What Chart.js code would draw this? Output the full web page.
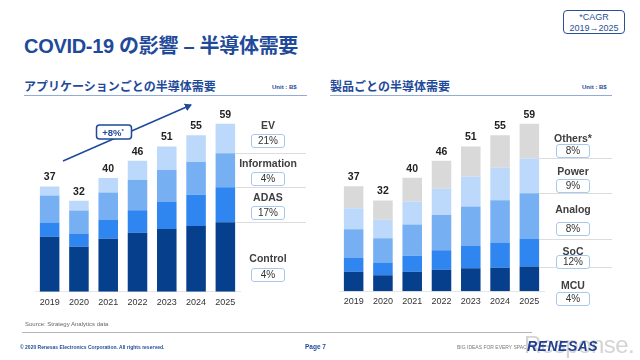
<!DOCTYPE html>
<html lang="ja">
<head>
  <meta charset="UTF-8">
  <title>COVID-19 の影響 – 半導体需要</title>
  <script src="https://cdn.jsdelivr.net/npm/chart.js"></script>
  <style>
    body {
      margin: 0;
      width: 640px;
      height: 360px;
      position: relative;
      overflow: hidden;
      background: #fff;
      font-family: 'Liberation Sans', Arial, 'Noto Sans CJK JP', sans-serif;
    }
    .abs { position: absolute; white-space: nowrap; }
    .title {
      left: 24px; top: 30px;
      font-size: 20px; font-weight: bold; color: #1f4a9a;
      letter-spacing: -0.3px;
    }
    .cagr {
      left: 563px; top: 10px; width: 62px; height: 24px;
      border: 1.5px solid #2a4f95; border-radius: 4px;
      color: #2a4f95; font-size: 9px; line-height: 11px; text-align: center;
      padding-top: 1px; box-sizing: border-box;
    }
    .head {
      font-size: 12px; font-weight: bold; color: #1f4a9a;
      border-bottom: 1.5px solid #93acd6; padding-bottom: 1px;
    }
    .unit { font-size: 6px; font-weight: bold; color: #1f4a9a; }
    .chart { position: absolute; top: 100px; width: 320px; height: 220px; }
    .lbl {
      position: absolute; font-size: 10.5px; font-weight: bold; color: #404040;
      transform: translateX(-50%); white-space: nowrap; line-height: 12px;
    }
    .box {
      position: absolute; width: 34px; height: 14px; box-sizing: border-box;
      border: 1px solid #a9c8ee; border-radius: 3px; background: #fff;
      font-size: 10px; color: #333; text-align: center; line-height: 12px;
    }
    .foot { font-size: 6px; color: #666; }
  </style>
</head>
<body>

<div class="abs title">COVID-19 の影響 – 半導体需要</div>
<div class="abs cagr">*CAGR<br>2019→2025</div>

<div class="abs head" style="left:24px; top:77px; width:283px;">アプリケーションごとの半導体需要</div>
<div class="abs unit" style="left:272px; top:84px;">Unit : B$</div>
<div class="abs head" style="left:330px; top:77px; width:282px;">製品ごとの半導体需要</div>
<div class="abs unit" style="left:582px; top:84px;">Unit : B$</div>

<div class="chart" style="left:0;"><canvas id="appChart" width="320" height="220"></canvas></div>
<div class="chart" style="left:320px;"><canvas id="prodChart" width="320" height="220"></canvas></div>

<svg class="abs" style="left:0; top:0;" width="320" height="360">
  <defs>
    <marker id="ah" markerWidth="8" markerHeight="8" refX="6" refY="4" orient="auto" markerUnits="userSpaceOnUse">
      <path d="M0,0 L7,4 L0,8 z" fill="#1f4a9a"/>
    </marker>
  </defs>
  <line x1="63" y1="161" x2="191" y2="105" stroke="#1f4a9a" stroke-width="1.5" marker-end="url(#ah)"/>
  <rect x="96.5" y="125" width="35" height="14" rx="3" fill="#fff" stroke="#1f4a9a" stroke-width="1.5"/>
  <text x="113" y="135.5" text-anchor="middle" font-size="9.5" font-weight="bold" fill="#1f4a9a" font-family="Liberation Sans, Arial">+8%<tspan font-size="6" dy="-3">*</tspan></text>
</svg>

<div id="appSide"></div>
<div id="prodSide"></div>

<div class="abs foot" style="left:25px; top:321px;">Source: Strategy Analytics data</div>
<div class="abs" style="left:22px; top:332px; width:510px; border-top:1px solid #b5b5b5;"></div>
<div class="abs" style="left:20px; top:344px; font-size:5px; font-weight:bold; color:#1f4a9a;">© 2020 Renesas Electronics Corporation. All rights reserved.</div>
<div class="abs" style="left:305px; top:343px; font-size:6.5px; font-weight:bold; color:#1f4a9a;">Page 7</div>
<div class="abs" style="left:457px; top:344px; font-size:5px; color:#777;">BIG IDEAS FOR EVERY SPACE</div>
<div class="abs" style="left:524px; top:331px; font-size:24px; color:#d4d4d4; letter-spacing:-0.5px;">Response.</div>
<div class="abs" style="left:527px; top:338px; font-size:14px; font-weight:bold; font-style:italic; color:#1f3f8f; letter-spacing:0.5px;">RENESAS</div>

<script>
  // 年
  const years = ['2019', '2020', '2021', '2022', '2023', '2024', '2025'];

  // アプリケーション別 (B$)
  const control = [19.3, 15.8, 18.6, 20.7, 22.0, 23.1, 24.4];
  const adas = [5.0, 4.7, 6.6, 7.9, 9.5, 11.0, 12.3];
  const information = [9.5, 8.0, 9.7, 10.7, 11.3, 11.5, 12.0];
  const ev = [3.2, 3.5, 5.1, 6.7, 8.2, 9.4, 10.3];
  const appTotals = [37, 32, 40, 46, 51, 55, 59];

  // 製品別 (B$)
  const mcu = [6.9, 5.6, 6.9, 7.6, 8.1, 8.3, 8.7];
  const soc = [4.8, 4.5, 5.6, 6.8, 7.8, 8.9, 9.7];
  const analog = [10.1, 8.6, 11.0, 12.5, 14.0, 14.9, 16.1];
  const power = [7.4, 6.5, 8.1, 9.3, 10.5, 11.4, 12.3];
  const others = [7.8, 6.8, 8.4, 9.8, 10.6, 11.5, 12.2];
  const prodTotals = [37, 32, 40, 46, 51, 55, 59];

  // CAGR 2019→2025
  const appNames = ['EV', 'Information', 'ADAS', 'Control'];
  const appCagr = ['21%', '4%', '17%', '4%'];
  const prodNames = ['Others*', 'Power', 'Analog', 'SoC', 'MCU'];
  const prodCagr = ['8%', '9%', '8%', '12%', '4%'];

  const navy = '#063f8b', blue = '#2f86f0', mid = '#76b0f2', pale = '#bcd8fa', gray = '#d9d9d9';

  // 合計ラベルと右側の区切り線
  const extras = {
    id: 'extras',
    afterDatasetsDraw(chart, args, opts) {
      const ctx = chart.ctx;
      const n = chart.data.datasets.length;
      const topMeta = chart.getDatasetMeta(n - 1);
      ctx.save();
      ctx.fillStyle = '#222';
      ctx.font = 'bold 10.5px "Liberation Sans", Arial';
      ctx.textAlign = 'center';
      ctx.textBaseline = 'middle';
      topMeta.data.forEach((bar, i) => {
        ctx.fillText(String(opts.totals[i]), bar.x, bar.y - 9);
      });
      const last = years.length - 1;
      ctx.strokeStyle = '#dcdcdc';
      ctx.lineWidth = 1;
      for (let d = 0; d < n - 1; d++) {
        const bar = chart.getDatasetMeta(d).data[last];
        const y = Math.round(bar.y) + 0.5;
        ctx.beginPath();
        ctx.moveTo(bar.x + bar.width / 2, y);
        ctx.lineTo(opts.lineEnd, y);
        ctx.stroke();
      }
      ctx.restore();
    }
  };

  function makeChart(id, sets, totals, pad, lineEnd) {
    return new Chart(document.getElementById(id), {
      type: 'bar',
      data: {
        labels: years,
        datasets: sets.map(s => ({
          label: s[0], data: s[1], backgroundColor: s[2],
          barPercentage: 0.667, categoryPercentage: 1, borderWidth: 0
        }))
      },
      options: {
        responsive: false,
        animation: false,
        layout: { padding: pad },
        plugins: {
          legend: { display: false },
          tooltip: { enabled: false },
          extras: { totals: totals, lineEnd: lineEnd }
        },
        scales: {
          x: {
            stacked: true,
            grid: { display: false, drawTicks: false },
            border: { display: true, color: '#e6e6e6' },
            ticks: { color: '#333', font: { size: 9, family: '"Liberation Sans", Arial' }, padding: 5 }
          },
          y: { stacked: true, display: false, min: 0, max: 60 }
        }
      },
      plugins: [extras]
    });
  }

  makeChart('appChart', [
    ['Control', control, navy],
    ['ADAS', adas, blue],
    ['Information', information, mid],
    ['EV', ev, pale]
  ], appTotals, { left: 35, right: 80, top: 21, bottom: 7.5 }, 306);

  makeChart('prodChart', [
    ['MCU', mcu, navy],
    ['SoC', soc, blue],
    ['Analog', analog, mid],
    ['Power', power, pale],
    ['Others', others, gray]
  ], prodTotals, { left: 19, right: 96, top: 21, bottom: 8 }, 292);

  // 右側のラベル
  function side(el, names, cagr, cx, labelTops, boxTops) {
    let html = '';
    names.forEach((name, i) => {
      html += '<div class="lbl" style="left:' + cx + 'px; top:' + labelTops[i] + 'px;">' + name + '</div>';
      html += '<div class="box" style="left:' + (cx - 17) + 'px; top:' + boxTops[i] + 'px;">' + cagr[i] + '</div>';
    });
    document.getElementById(el).innerHTML = html;
  }
  side('appSide', appNames, appCagr, 268, [119, 157, 191, 252], [134, 172, 206, 268]);
  side('prodSide', prodNames, prodCagr, 573, [132, 165, 203, 245, 279], [144, 179, 222, 255, 292]);
</script>
</body>
</html>
